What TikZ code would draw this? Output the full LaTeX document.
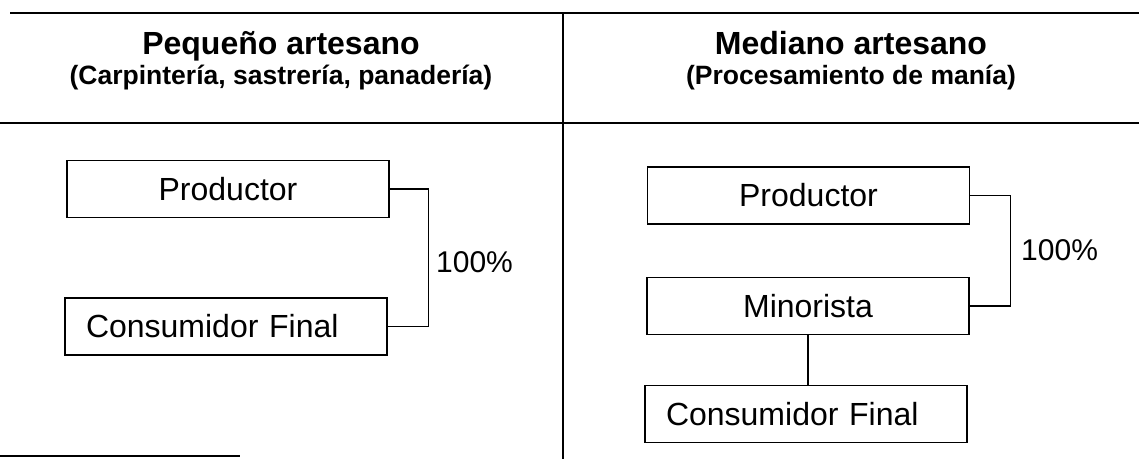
\documentclass[tikz,border=0pt]{standalone}
\usepackage{fontspec}
\setmainfont{Liberation Sans}
\begin{document}
\begin{tikzpicture}[x=1pt,y=-1pt,
  rule/.style={line width=2pt},
  box/.style={draw, line width=1.4pt, minimum width=322pt, minimum height=57pt, inner sep=0pt, font=\fontsize{32}{38}\selectfont},
  lbox/.style={box, text width=280pt, inner xsep=21pt, align=left},
  conn/.style={line width=1.4pt},
  pct/.style={font=\fontsize{30}{36}\selectfont, anchor=west, inner sep=0pt},
  titletext/.style={font=\bfseries\fontsize{32}{38}\selectfont, anchor=base, inner sep=0pt},
  subtext/.style={font=\bfseries\fontsize{26.5}{31}\selectfont, anchor=base, inner sep=0pt}]
\useasboundingbox (0,0) rectangle (1139,459);
% table rules
\draw[rule] (10,13) -- (1139,13);
\draw[rule] (0,123) -- (1139,123);
\draw[rule] (563,13) -- (563,459);
\draw[rule] (0,456) -- (240,456);
% headers
\node[titletext] (t1) at (281,54) {Pequeño artesano};
\node[subtext] (s1) at (281,84) {(Carpintería, sastrería, panadería)};
\node[titletext] (t2) at (851,54) {Mediano artesano};
\node[subtext] (s2) at (851,84) {(Procesamiento de manía)};
% left column
\node[box] (p1) at (228,189) {Productor};
\node[lbox] (c1) at (226,326.5) {Consumidor Final};
\draw[conn] (p1.east) -- ++(39,0) |- (c1.east);
\node[pct] (l1) at (436,262) {100\%};
% right column
\node[box] (p2) at (808.5,195.5) {Productor};
\node[box] (m2) at (808,306) {Minorista};
\node[lbox] (c2) at (806,414) {Consumidor Final};
\draw[conn] (p2.east) -- ++(40,0) |- (m2.east);
\draw[conn] (m2.south) -- (m2.south |- c2.north);
\node[pct] (l2) at (1021,250) {100\%};
\end{tikzpicture}
\end{document}
